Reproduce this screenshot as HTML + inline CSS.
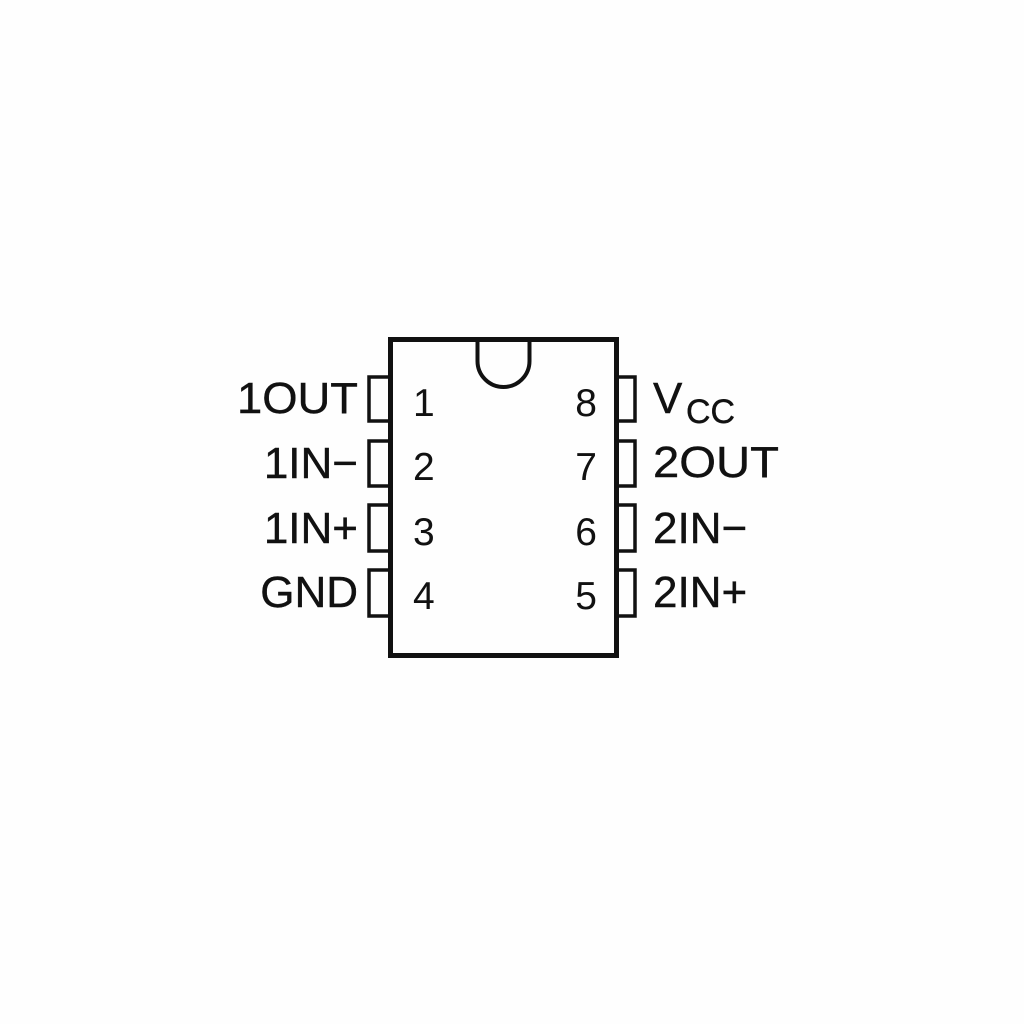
<!DOCTYPE html>
<html><head><meta charset="utf-8"><style>html,body{margin:0;padding:0;background:#fff}svg{display:block}</style></head>
<body>
<svg width="1024" height="1024" viewBox="0 0 1024 1024" xmlns="http://www.w3.org/2000/svg">
<rect width="1024" height="1024" fill="#fefefe"/>
<g fill="none" stroke="#111" stroke-width="5">
<rect x="390.5" y="339.5" width="226" height="316"/>
</g>
<path d="M477.5 340 V361 A26 26 0 0 0 529.5 361 V340" fill="none" stroke="#111" stroke-width="4"/>
<g fill="none" stroke="#111" stroke-width="3.5">
<rect x="369" y="377" width="21" height="44"/>
<rect x="369" y="441" width="21" height="45"/>
<rect x="369" y="505" width="21" height="46"/>
<rect x="369" y="570" width="21" height="46"/>
<rect x="617" y="377" width="18" height="44"/>
<rect x="617" y="441" width="18" height="45"/>
<rect x="617" y="505" width="18" height="46"/>
<rect x="617" y="570" width="18" height="46"/>
</g>
<g font-family="Liberation Sans, sans-serif" fill="#111" font-size="44" stroke="#111" stroke-width="0.4">
<text x="237" y="413" textLength="121" lengthAdjust="spacingAndGlyphs">1OUT</text>
<text x="358" y="478" text-anchor="end">1IN−</text>
<text x="358" y="543" text-anchor="end">1IN+</text>
<text x="358" y="607" text-anchor="end">GND</text>
<text x="653" y="413">V</text>
<text x="686" y="423" font-size="34">CC</text>
<text x="653" y="477" textLength="126" lengthAdjust="spacingAndGlyphs">2OUT</text>
<text x="653" y="543">2IN−</text>
<text x="653" y="607">2IN+</text>
</g>
<g font-family="Liberation Sans, sans-serif" fill="#111" font-size="39">
<text x="413" y="416">1</text>
<text x="413" y="480">2</text>
<text x="413" y="545">3</text>
<text x="413" y="609">4</text>
<text x="597" y="416" text-anchor="end">8</text>
<text x="597" y="480" text-anchor="end">7</text>
<text x="597" y="545" text-anchor="end">6</text>
<text x="597" y="609" text-anchor="end">5</text>
</g>
</svg>
</body></html>
